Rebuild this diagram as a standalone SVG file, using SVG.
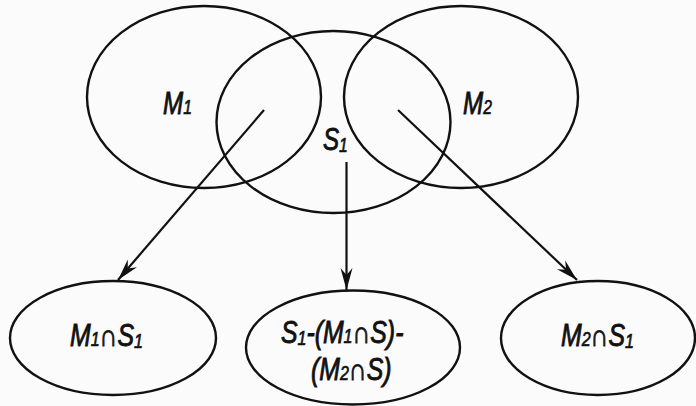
<svg xmlns="http://www.w3.org/2000/svg" width="696" height="406" viewBox="0 0 696 406">
<style>
.e{fill:none;stroke:#111;stroke-width:2.4}
.c{fill:none;stroke:#111;stroke-width:2.2}
.t{font-family:"Liberation Sans",Arial,sans-serif;font-style:italic;font-size:31px;fill:#111;stroke:#111;stroke-width:0.9}
.s{font-size:20px;stroke-width:0.7}
</style>
<defs>
<marker id="ah" viewBox="-23 -7 25 14" refX="0" refY="0" markerWidth="25" markerHeight="14" markerUnits="userSpaceOnUse" orient="auto">
<path d="M0,0 L-22,-6 L-15,0 L-22,6 Z" fill="#111"/>
</marker>
</defs>
<rect width="696" height="406" fill="#fbfbfb"/>
<g id="M1"><ellipse class="e" cx="204" cy="97" rx="117" ry="91"/><text class="t" transform="translate(163,114) scale(0.78,1)">M<tspan class="s">1</tspan></text></g>
<g id="S1"><ellipse class="e" cx="333.5" cy="122" rx="117" ry="91"/><text class="t" transform="translate(323,150) scale(0.78,1)">S<tspan class="s" dy="2">1</tspan></text></g>
<g id="M2"><ellipse class="e" cx="461" cy="97" rx="117" ry="91"/><text class="t" transform="translate(463,114) scale(0.78,1)">M<tspan class="s">2</tspan></text></g>
<g id="connectors">
<line class="c" x1="264" y1="110" x2="118" y2="280" marker-end="url(#ah)"/>
<line class="c" x1="346.5" y1="162" x2="346.5" y2="290" marker-end="url(#ah)"/>
<line class="c" x1="398" y1="110" x2="577" y2="280" marker-end="url(#ah)"/>
</g>
<g id="M1capS1"><ellipse class="e" cx="113" cy="338" rx="103" ry="57"/><text class="t" transform="translate(70,346) scale(0.8,1)">M<tspan class="s">1</tspan>∩S<tspan class="s" dy="2">1</tspan></text></g>
<g id="S1minus"><ellipse class="e" cx="353" cy="347.5" rx="107" ry="57"/><text class="t" transform="translate(281,343) scale(0.8,1)">S<tspan class="s" dy="2">1</tspan><tspan dy="-2">-(M</tspan><tspan class="s">1</tspan>∩S)-</text><text class="t" transform="translate(311,380) scale(0.8,1)">(M<tspan class="s">2</tspan>∩S)</text></g>
<g id="M2capS1"><ellipse class="e" cx="598" cy="338" rx="97" ry="57"/><text class="t" transform="translate(561,346) scale(0.8,1)">M<tspan class="s">2</tspan>∩S<tspan class="s" dy="2">1</tspan></text></g>
</svg>
